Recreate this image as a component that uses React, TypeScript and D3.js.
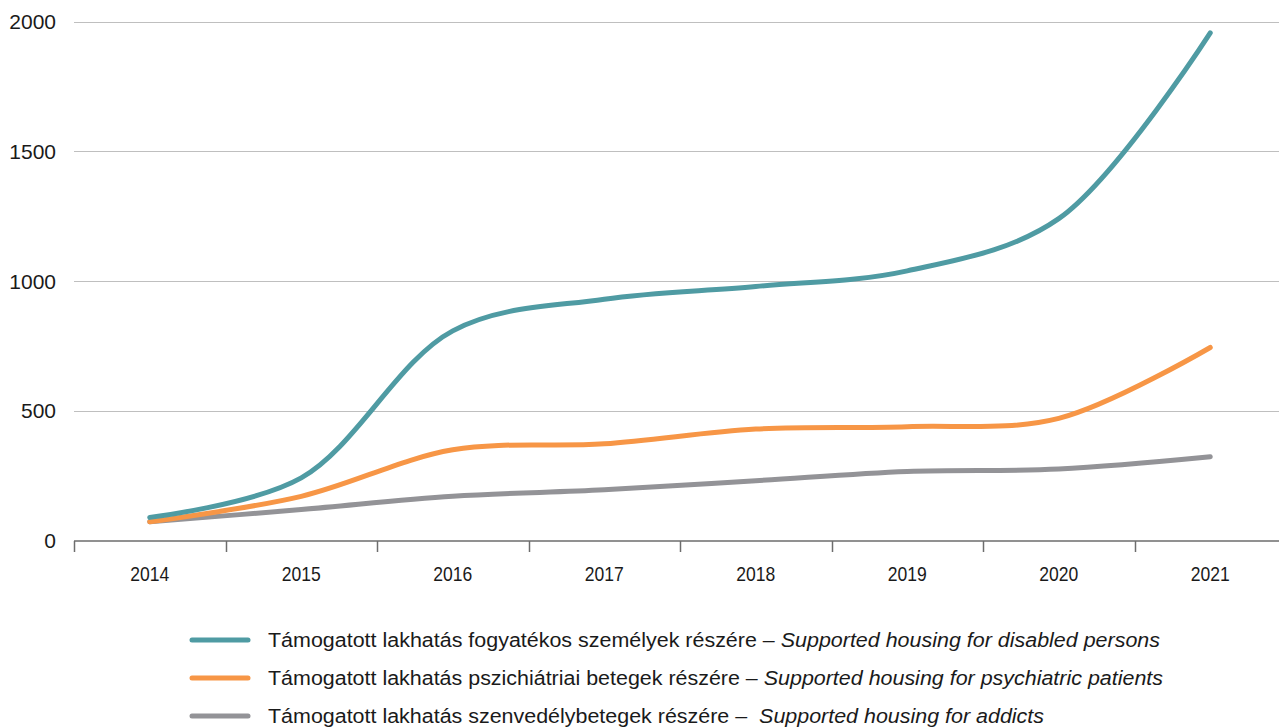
import { useEffect, useRef } from 'react'
import * as d3 from 'd3'

const years = ['2014', '2015', '2016', '2017', '2018', '2019', '2020', '2021']
const disabled = [91, 243, 809, 931, 980, 1040, 1241, 1956]
const psychiatric = [74, 172, 351, 374, 431, 440, 472, 745]
const addicts = [74, 121, 172, 197, 232, 268, 277, 324]
const yTicks = [0, 500, 1000, 1500, 2000]

const legendHu = [
  'Támogatott lakhatás fogyatékos személyek részére – ',
  'Támogatott lakhatás pszichiátriai betegek részére – ',
  'Támogatott lakhatás szenvedélybetegek részére –  ',
]
const legendEn = [
  'Supported housing for disabled persons',
  'Supported housing for psychiatric patients',
  'Supported housing for addicts',
]
// rendered widths of the legend rows in the source (it uses a condensed face)
const legendWidths = [892, 895, 776]
const colors = ['#4f9ba3', '#f79646', '#939397']

export default function App() {
  const svgRef = useRef<SVGSVGElement>(null)

  useEffect(() => {
    const W = 1279,
      H = 727
    const svg = d3.select(svgRef.current).attr('width', W).attr('height', H)
    svg.selectAll('*').remove()

    const x = d3.scaleBand().domain(years).range([74, 1286])
    const y = d3.scaleLinear().domain([0, 2000]).range([541, 21.5])
    const cx = (d: string) => (x(d) as number) + x.bandwidth() / 2

    // gridlines
    svg
      .append('g')
      .selectAll('line')
      .data(yTicks.filter((t) => t > 0))
      .join('line')
      .attr('x1', 74)
      .attr('x2', W)
      .attr('y1', (d) => Math.round(y(d)) + 0.5)
      .attr('y2', (d) => Math.round(y(d)) + 0.5)
      .attr('stroke', '#bfbfbf')
      .attr('stroke-width', 1)

    // y labels
    svg
      .append('g')
      .selectAll('text')
      .data(yTicks)
      .join('text')
      .attr('x', 56)
      .attr('y', (d) => y(d))
      .attr('dy', '0.35em')
      .attr('text-anchor', 'end')
      .attr('font-family', 'Liberation Sans, Arial, sans-serif')
      .attr('font-size', 21)
      .attr('fill', '#1a1a1a')
      .text((d) => d)

    // x axis
    const bounds = d3.range(years.length + 1).map((i) => 74 + i * x.bandwidth())
    const ax = svg.append('g')
    ax.append('line')
      .attr('x1', 74)
      .attr('x2', W)
      .attr('y1', 541)
      .attr('y2', 541)
      .attr('stroke', '#6d6d6d')
      .attr('stroke-width', 1.5)
    ax.selectAll('line.tick')
      .data(bounds)
      .join('line')
      .attr('class', 'tick')
      .attr('x1', (d) => Math.round(d) + 0.5)
      .attr('x2', (d) => Math.round(d) + 0.5)
      .attr('y1', 541)
      .attr('y2', 552)
      .attr('stroke', '#6d6d6d')
      .attr('stroke-width', 1.5)
    ax.selectAll('text')
      .data(years)
      .join('text')
      .attr('x', cx)
      .attr('y', 574)
      .attr('dy', '0.35em')
      .attr('text-anchor', 'middle')
      .attr('font-family', 'Liberation Sans, Arial, sans-serif')
      .attr('font-size', 21)
      .attr('textLength', 39)
      .attr('lengthAdjust', 'spacingAndGlyphs')
      .attr('fill', '#1a1a1a')
      .text((d) => d)

    // lines
    const series = [disabled, psychiatric, addicts]
    const line = d3
      .line<number>()
      .x((_, i) => cx(years[i]))
      .y((d) => y(d))
      .curve(d3.curveCatmullRom.alpha(0.5))
    svg
      .append('g')
      .selectAll('path')
      .data(series.slice().reverse())
      .join('path')
      .attr('d', (d) => line(d))
      .attr('fill', 'none')
      .attr('stroke', (_, i) => colors[2 - i])
      .attr('stroke-width', 5)
      .attr('stroke-linecap', 'round')
      .attr('stroke-linejoin', 'round')

    // legend
    const lg = svg
      .append('g')
      .selectAll('g')
      .data(legendHu)
      .join('g')
      .attr('transform', (_, i) => `translate(0,${640 + i * 38})`)
    lg.append('line')
      .attr('x1', 192)
      .attr('x2', 248)
      .attr('stroke', (_, i) => colors[i])
      .attr('stroke-width', 5)
      .attr('stroke-linecap', 'round')
    const t = lg
      .append('text')
      .attr('x', 268)
      .attr('dy', '0.35em')
      .attr('font-family', 'Liberation Sans, Arial, sans-serif')
      .attr('font-size', 20)
      .attr('fill', '#1a1a1a')
      .attr('textLength', (_, i) => legendWidths[i])
      .attr('lengthAdjust', 'spacingAndGlyphs')
      .style('white-space', 'pre')
    t.append('tspan').text((d) => d)
    t.append('tspan')
      .attr('font-style', 'italic')
      .text((_, i) => legendEn[i])
  }, [])

  return (
    <div style={{ position: 'absolute', left: 0, top: 0 }}>
      <svg ref={svgRef} style={{ display: 'block' }}></svg>
    </div>
  )
}
